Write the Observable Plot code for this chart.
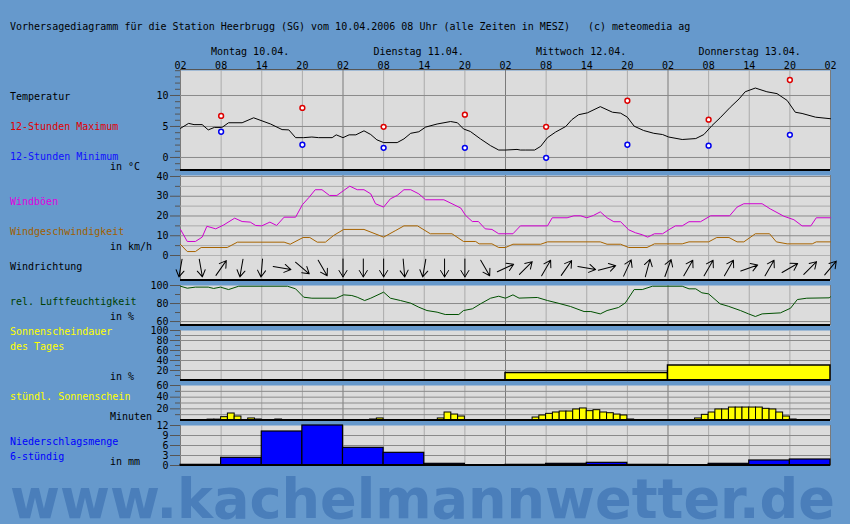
<!DOCTYPE html>
<html><head><meta charset="utf-8">
<script src="https://cdn.jsdelivr.net/npm/d3@7"></script>
<script src="https://cdn.jsdelivr.net/npm/@observablehq/plot@0.6"></script>
<style>
body{margin:0;background:#6699cc;}
#chart{position:relative;width:850px;height:524px;background:#6699cc;overflow:hidden;font-family:"DejaVu Sans Mono",monospace;font-size:10px;color:#000;}
.lbl{position:absolute;white-space:pre;line-height:12px;}
.panel{position:absolute;left:0;}
.bline{position:absolute;left:180px;width:650px;height:2px;background:#000;}
</style></head><body><div id="chart"></div>
<script>
// ---- tick labels / categories ----
const hourTicks = [0,6,12,18,24,30,36,42,48,54,60,66,72,78,84,90,96];
const hourLabels = ["02","08","14","20","02","08","14","20","02","08","14","20","02","08","14","20","02"];
const dayLabels = ["Montag 10.04.","Dienstag 11.04.","Mittwoch 12.04.","Donnerstag 13.04."];
const dayLines = [0,24,48,72,96];
const sixLines = [6,12,18,30,36,42,54,60,66,78,84,90];

// ---- temperature (hours since Mon 02:00, °C) ----
const tempHours = [0,1.2,2,3.2,4.1,5,6,6.2,7.1,9.1,10.8,13.3,15,16,17,18.2,19.4,20.4,22.4,23,24,24.9,25.9,27.1,28.1,29,30,32,33,34,35.2,36.2,37.9,39.9,40.9,41.8,42.8,44.3,45.8,47,48,49.7,50.2,51,52.3,53.2,54.2,55.4,56.9,57.8,58.8,60.1,62,63.8,65,66,67,68.4,69.9,71.2,72.1,74.1,76.1,77.3,78.5,79.7,81.2,82.5,83.4,84.9,86.6,88.1,89.6,90.8,91.8,93.8,96];
const tempValues = [4.7,5.5,5.3,5.3,4.45,4.85,4.85,4.9,5.6,5.6,6.4,5.4,4.5,4.45,3.2,3.2,3.3,3.2,3.2,3.65,3.2,3.65,3.65,4.3,3.7,2.85,2.4,2.4,3.0,3.9,4.15,4.9,5.4,5.8,5.6,4.6,4.2,3.0,1.9,1.2,1.2,1.3,1.2,1.2,1.2,1.8,3.2,4.1,5.0,6.1,6.9,7.2,8.2,7.3,7.15,6.5,5.05,4.35,3.9,3.7,3.3,2.9,3.05,3.7,5.15,6.4,8.1,9.45,10.6,11.2,10.6,10.3,9.2,7.3,7.1,6.5,6.25];
const extHours = [6,18,30,42,54,66,78,90];
const tempMax = [6.7,8.0,4.95,6.9,4.95,9.15,6.1,12.5];
const tempMin = [4.15,2.05,1.55,1.55,-0.05,2.05,1.9,3.65];

// ---- wind (km/h) ----
const gustHours = [0,1,2.2,3.2,3.9,5.2,6.4,8,9.1,10.3,11.1,12,13.2,14.2,15.3,17,18,19,19.9,20.9,22,23.1,24.1,25,26.1,27.1,28.1,28.8,30,31,32,33,34,35.2,36.2,38.9,40.4,41.4,42.1,43.1,44,45,46,47,49.1,50.2,54.2,54.9,57.1,58.1,59.1,60,61,62,63,64,65,66.2,67.2,68.2,69,70,71.2,72.1,73.1,74.1,75.1,76.8,78.3,81.1,82.2,83.2,85.9,87.1,89.1,90.6,91.8,93.1,93.9,96];
const gustValues = [13.2,7.1,7.1,9.3,14.8,13.5,15.5,18.9,17.2,16.9,15.2,15.0,16.9,15.2,19.4,19.4,25.7,29.5,33.3,33.3,30.4,30.4,32.9,35.1,33.3,33.3,31.2,26.2,24.5,28.7,30.4,33.3,33.3,31.2,28.2,28.2,25.7,24.0,20.3,17.2,17.2,13.5,13.2,11.0,11.0,15.0,15.0,19.1,19.1,20.1,20.1,19.1,20.3,22.1,19.1,17.1,17.1,13.0,11.5,10.5,9.3,11.0,11.0,13.0,15.0,15.0,17.1,17.1,20.1,20.1,24.5,26.2,26.2,23.6,19.9,18.1,15.0,15.0,19.1,19.1];
const windHours = [0,1,2.2,3.05,6.9,8.4,15.3,16.2,18.1,19.1,20.2,21.4,22.6,24.1,27.1,30,31.8,33,35,36.9,40.1,41.8,43.6,44.1,46,47,48,49.1,53.2,54.2,62,63,65,66.2,68.9,70,74.1,75.1,78,79.2,81,82.2,83.2,84.9,87,88,89.6,93.3,93.9,96];
const windValues = [5.6,2.0,2.0,4.05,4.05,6.75,6.75,5.7,9.1,9.1,6.75,6.75,10.1,13.2,13.2,9.3,12.7,15.0,15.0,11.0,11.0,7.1,7.1,5.9,5.9,4.05,4.05,5.7,5.7,6.9,6.9,5.7,5.7,4.05,4.05,5.9,5.9,6.9,6.9,9.1,9.1,6.9,6.9,11.0,11.0,6.9,5.9,5.9,6.9,6.9];

// ---- wind direction (every 3 h, meteorological "from" degrees) ----
const dirHours = [0,3,6,9,12,15,18,21,24,27,30,33,36,39,42,45,48,51,54,57,60,63,66,69,72,75,78,81,84,87,90,93,96];
const dirFrom = [10,350,215,10,5,280,310,330,0,0,0,355,10,0,0,330,245,225,210,215,280,255,205,195,200,210,210,210,250,210,240,225,220];

// ---- relative humidity (%) ----
const rhHours = [0,1,2.2,4.1,4.9,5.9,7.1,8.6,15.8,17,18.2,19.4,23,24.1,25.3,26.1,27.2,28.1,30,31,32.5,34,35.2,36.4,37.9,39.1,41.1,41.8,43.1,44.3,45.8,47,48,49.1,50,52.7,54.2,55.6,57.6,59.6,60.6,62,63,64.7,65.7,67,68.2,69.7,74.1,75.1,76.1,77,78,79.7,80.9,82.7,83.9,84.9,85.9,88.6,90.1,91.1,92.5,95.8,96];
const rhValues = [99.2,97,98.2,98.2,96.7,98.2,95.5,99.2,99.2,96.3,87.0,85.9,85.9,89.6,88.9,87.0,83.3,85.9,92.6,85.9,83.3,80.4,75.9,72.2,70.4,67.8,67.8,72.2,74.1,79.6,85.9,88.1,85.9,89.6,86,86.7,83.3,80.7,76.7,71.1,71.1,68.5,72.2,75.6,80.7,95.5,95.5,99.2,99.2,96.3,96.3,91.9,90.7,79.6,77.0,72.2,68.5,65.6,68.5,69.6,74.8,84.4,85.9,86.3,87.4];

// ---- sunshine ----
const sunDaily = [0,0,15,30];   // % of day
const sunHours = [4,5,6,7,8,10,11,14,28,29,38,39,40,41,52,53,54,55,56,57,58,59,60,61,62,63,64,65,66,76,77,78,79,80,81,82,83,84,85,86,87,88,89,90];
const sunMinutes = [1.5,1.5,5.7,12,6.8,3.5,1.7,1.7,1.7,3.5,3.5,13.7,10.2,6.8,5.1,8.6,11.4,13.7,15.4,15.4,18.9,20.6,16,17.7,13.7,12.5,10.2,8.6,1.7,3.5,9.7,13.7,18.9,18.9,22.2,22.2,22.2,22.2,22.2,20,18.9,13.7,6.8,1.7];

// ---- precipitation (mm per 6 h) ----
const precipStart = [0,6,12,18,24,30,36,42,48,54,60,66,72,78,84,90];
const precipValues = [0.2,2.3,10.2,12,5.3,3.8,0.5,0,0.2,0.5,0.8,0.2,0.1,0.5,1.5,1.8];

// ---- build tables ----
const zip = (a, b) => a.map((h, i) => ({h, v: b[i]}));
const temp = zip(tempHours, tempValues);
const tmax = zip(extHours, tempMax);
const tmin = zip(extHours, tempMin);
const gust = zip(gustHours, gustValues);
const wind = zip(windHours, windValues);
const dirs = dirHours.map((h, i) => ({h, d: dirFrom[i]}));
const rh = zip(rhHours, rhValues);
const sunD = sunDaily.map((v, i) => ({h: i * 24, v}));
const sunH = zip(sunHours, sunMinutes);
const precip = zip(precipStart, precipValues);

const chart = document.getElementById("chart");
const GRID = "#8a8a8a", LIGHT = "#ababab", DAY = "#7a7a7a", TICK = "#555";

function panel(top, height, yopts, marks, extra = {}) {
  const p = Plot.plot({
    width: 850, height, marginLeft: 180, marginRight: 20, marginTop: 0, marginBottom: 0,
    x: {domain: [0, 96], label: null, axis: extra.xaxis ? undefined : null},
    y: yopts ? {...yopts, label: null} : undefined,
    style: {background: "transparent", fontFamily: "DejaVu Sans Mono", fontSize: "10px", color: "black", overflow: "visible"},
    ...extra.plot,
    marks: [
      Plot.frame({fill: "#dcdcdc", stroke: "none"}),
      ...(extra.hgrid || []),
      Plot.ruleX(sixLines, {stroke: LIGHT}),
      Plot.ruleX(dayLines, {stroke: DAY}),
      ...marks
    ]
  });
  p.classList.add("panel");
  p.style.top = top + "px";
  chart.appendChild(p);
  return p;
}
function yAxes(major, minor) {
  const a = [];
  if (minor) a.push(Plot.axisY({ticks: minor, tickSize: 5, tickFormat: () => "", stroke: TICK, label: null}));
  a.push(Plot.axisY({ticks: major, tickSize: 10, tickPadding: 2, stroke: TICK, fill: "black", label: null}));
  return a;
}

// Temperature (svg 0..170, plot 70..170)
panel(0, 170, {domain: [-2.1, 14.03]}, [
  Plot.ruleY([10, 5, 0], {stroke: GRID}),
  ...yAxes([0, 5, 10], d3.range(-2, 15, 1)),
  Plot.axisX({anchor: "top", ticks: hourTicks, tickSize: 0, tickPadding: 2, tickFormat: d => hourLabels[hourTicks.indexOf(d)], label: null}),
  Plot.text(dayLabels, {x: (d, i) => i * 24 + 4.5, frameAnchor: "top", dy: -23, textAnchor: "start", text: d => d}),
  Plot.line(temp, {x: "h", y: "v", stroke: "black", strokeWidth: 1}),
  Plot.dot(tmax, {x: "h", y: "v", r: 2.4, stroke: "#dd0000", strokeWidth: 1.5, fill: "white"}),
  Plot.dot(tmin, {x: "h", y: "v", r: 2.4, stroke: "#0000ee", strokeWidth: 1.5, fill: "white"})
], {xaxis: true, plot: {marginTop: 70}});

// Wind (175..255)
panel(175, 80, {domain: [0, 40.5]}, [
  Plot.ruleY([5, 15, 25, 35], {stroke: LIGHT}),
  Plot.ruleY([0, 10, 20, 30, 40], {stroke: GRID}),
  ...yAxes([0, 10, 20, 30, 40], [5, 15, 25, 35]),
  Plot.line(wind, {x: "h", y: "v", stroke: "#a86400", strokeWidth: 1}),
  Plot.line(gust, {x: "h", y: "v", stroke: "#d000d0", strokeWidth: 1})
]);

// Wind direction (255..280)
const arrowShape = {
  draw(ctx, l) {
    ctx.moveTo(0, 0); ctx.lineTo(0, -l);
    ctx.moveTo(-4, -l + 6.5); ctx.lineTo(0, -l); ctx.lineTo(4, -l + 6.5);
  }
};
panel(255, 25, null, [
  Plot.vector(dirs, {x: "h", rotate: d => (d.d + 180) % 360, length: 18, shape: arrowShape, anchor: "middle", frameAnchor: "middle", stroke: "black", strokeWidth: 1})
]);

// Humidity (285..325)
panel(285, 40, {domain: [55.6, 100]}, [
  Plot.ruleY([60, 80], {stroke: GRID}),
  ...yAxes([60, 80, 100], [70, 90]),
  Plot.line(rh, {x: "h", y: "v", stroke: "#005000", strokeWidth: 1})
]);

// Daily sunshine (330..380)
panel(330, 50, {domain: [0, 100]}, [
  Plot.ruleY([20, 40, 60, 80, 90], {stroke: GRID}),
  ...yAxes([20, 40, 60, 80, 100], [10, 30, 50, 70, 90]),
  Plot.rectY(sunD, {x1: "h", x2: d => d.h + 24, y: "v", fill: "#ffff00", stroke: "black", strokeWidth: 1.5})
]);

// Hourly sunshine (385..420)
panel(385, 35, {domain: [0, 60]}, [
  Plot.ruleY([10, 20, 30, 40, 50], {stroke: GRID}),
  ...yAxes([20, 40, 60], [10, 30, 50]),
  Plot.rectY(sunH, {x1: "h", x2: d => d.h + 1, y: "v", fill: "#ffff00", stroke: "black", strokeWidth: 1})
]);

// Precipitation (425..465)
panel(425, 40, {domain: [0, 12]}, [
  Plot.ruleY([3, 6, 9], {stroke: GRID}),
  ...yAxes([0, 3, 6, 9, 12]),
  Plot.rectY(precip, {x1: "h", x2: d => d.h + 6, y: "v", fill: "#0000ff", stroke: "black", strokeWidth: 1.2})
]);

// panel borders
[[69, 1, "#555"], [169, 2], [279, 2], [324, 2], [379, 2], [419, 2], [464, 2]].forEach(([t, h, c]) => {
  const d = document.createElement("div");
  d.className = "bline"; d.style.top = t + "px"; d.style.height = h + "px";
  if (c) d.style.background = c;
  chart.appendChild(d);
});

// texts
function lbl(text, x, yc, color) {
  const d = document.createElement("div");
  d.className = "lbl"; d.textContent = text;
  d.style.left = x + "px"; d.style.top = (yc - 6) + "px";
  if (color) d.style.color = color;
  chart.appendChild(d);
}
lbl("Vorhersagediagramm für die Station Heerbrugg (SG) vom 10.04.2006 08 Uhr (alle Zeiten in MESZ)   (c) meteomedia ag", 10, 27);
lbl("Temperatur", 10, 97);
lbl("12-Stunden Maximum", 10, 127, "#e00000");
lbl("12-Stunden Minimum", 10, 157, "#1010ff");
lbl("in °C", 110, 167);
lbl("Windböen", 10, 202, "#e000e0");
lbl("Windgeschwindigkeit", 10, 232, "#a06000");
lbl("in km/h", 110, 247);
lbl("Windrichtung", 10, 267);
lbl("rel. Luftfeuchtigkeit", 10, 302, "#004000");
lbl("in %", 110, 317);
lbl("Sonnenscheindauer", 10, 332, "#ffff00");
lbl("des Tages", 10, 347, "#ffff00");
lbl("in %", 110, 377);
lbl("stündl. Sonnenschein", 10, 397, "#ffff00");
lbl("Minuten", 110, 417);
lbl("Niederschlagsmenge", 10, 442, "#0000ff");
lbl("6-stündig", 10, 457, "#0000ff");
lbl("in mm", 110, 462);

// watermark
const ns = "http://www.w3.org/2000/svg";
const wm = document.createElementNS(ns, "svg");
wm.setAttribute("width", 850); wm.setAttribute("height", 54);
wm.style.position = "absolute"; wm.style.left = "0px"; wm.style.top = "470px";
const t = document.createElementNS(ns, "text");
t.setAttribute("x", 10); t.setAttribute("y", 48);
t.setAttribute("textLength", 825); t.setAttribute("lengthAdjust", "spacingAndGlyphs");
t.setAttribute("font-family", "DejaVu Sans"); t.setAttribute("font-weight", "bold");
t.setAttribute("font-size", 56); t.setAttribute("fill", "#4a7eba");
t.textContent = "www.kachelmannwetter.de";
wm.appendChild(t); chart.appendChild(wm);
</script></body></html>
